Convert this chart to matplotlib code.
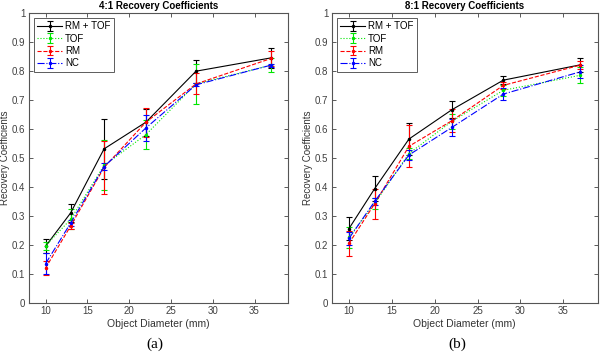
import numpy as np
import matplotlib
matplotlib.use("Agg")
import matplotlib.pyplot as plt

plt.rcParams['font.family'] = ['Liberation Sans', 'DejaVu Sans']

diam = [10, 13, 17, 22, 28, 37]
labels = ['RM + TOF', 'TOF', 'RM', 'NC']

# 4:1 contrast
rc4_rmtof = [0.195, 0.310, 0.531, 0.623, 0.799, 0.845]
err4_rmtof = [0.024, 0.030, 0.104, 0.047, 0.040, 0.034]
rc4_tof = [0.197, 0.288, 0.474, 0.580, 0.755, 0.820]
err4_tof = [0.013, 0.034, 0.086, 0.050, 0.070, 0.025]
rc4_rm = [0.120, 0.265, 0.467, 0.623, 0.755, 0.843]
err4_rm = [0.023, 0.010, 0.092, 0.050, 0.036, 0.027]
rc4_nc = [0.135, 0.275, 0.470, 0.603, 0.752, 0.820]
err4_nc = [0.036, 0.010, 0.012, 0.046, 0.005, 0.005]

# 8:1 contrast
rc8_rmtof = [0.256, 0.394, 0.565, 0.666, 0.768, 0.821]
err8_rmtof = [0.040, 0.044, 0.055, 0.030, 0.013, 0.025]
rc8_tof = [0.226, 0.343, 0.515, 0.626, 0.733, 0.785]
err8_tof = [0.036, 0.018, 0.020, 0.026, 0.020, 0.027]
rc8_rm = [0.205, 0.342, 0.540, 0.628, 0.750, 0.820]
err8_rm = [0.042, 0.052, 0.072, 0.040, 0.012, 0.013]
rc8_nc = [0.222, 0.350, 0.510, 0.605, 0.720, 0.797]
err8_nc = [0.024, 0.012, 0.018, 0.030, 0.022, 0.022]

styles = [('k', '-'), ((0, 0.9, 0), ':'), ('r', '--'), ('b', '-.')]


def panel(ax, values, errors, title, ylab_x):
    for (c, ls), y, e, lab in zip(styles, values, errors, labels):
        ax.errorbar(diam, y, yerr=e, color=c, ls=ls, lw=0.8, marker='.',
                    ms=3, capsize=2.5, elinewidth=0.8, capthick=0.8, label=lab)
    ax.set_xlim(8, 39)
    ax.set_ylim(0, 1)
    ax.set_xticks([10, 15, 20, 25, 30, 35])
    ax.set_yticks(np.arange(0, 1.01, 0.1))
    ax.set_yticklabels(['0', '0.1', '0.2', '0.3', '0.4', '0.5', '0.6', '0.7',
                        '0.8', '0.9', '1'])
    ax.tick_params(direction='in', top=True, right=True, length=3,
                   labelsize=7, colors='#404040', width=0.6, pad=2.5)
    for s in ax.spines.values():
        s.set_color('#555555')
        s.set_linewidth(0.8)
    ax.set_title(title, fontsize=7, fontweight='bold', pad=3)
    ax.set_xlabel('Object Diameter (mm)', fontsize=7.5, color='#333333',
                  labelpad=2)
    ax.set_ylabel('Recovery Coefficients', fontsize=7, color='#333333',
                  va='center')
    ax.yaxis.set_label_coords(ylab_x, 0.5)
    leg = ax.legend(loc='upper left', fontsize=7, frameon=True, fancybox=False,
                    handlelength=2.6, borderpad=0.35, labelspacing=0.25,
                    handletextpad=0.3, borderaxespad=0.5)
    leg.get_frame().set_edgecolor('#333333')
    leg.get_frame().set_linewidth(0.7)


fig = plt.figure(figsize=(6.0, 3.58), dpi=100)
ax1 = fig.add_axes([0.048, 0.154, 0.432, 0.81])
ax2 = fig.add_axes([0.553, 0.154, 0.443, 0.81])

panel(ax1, [rc4_rmtof, rc4_tof, rc4_rm, rc4_nc],
      [err4_rmtof, err4_tof, err4_rm, err4_nc], '4:1 Recovery Coefficients',
      -0.092)
panel(ax2, [rc8_rmtof, rc8_tof, rc8_rm, rc8_nc],
      [err8_rmtof, err8_tof, err8_rm, err8_nc], '8:1 Recovery Coefficients',
      -0.088)

fig.text(0.258, 0.028, '(a)', family='Liberation Serif', fontsize=11, ha='center')
fig.text(0.762, 0.028, '(b)', family='Liberation Serif', fontsize=11, ha='center')

fig.savefig('out.png', dpi=100)
